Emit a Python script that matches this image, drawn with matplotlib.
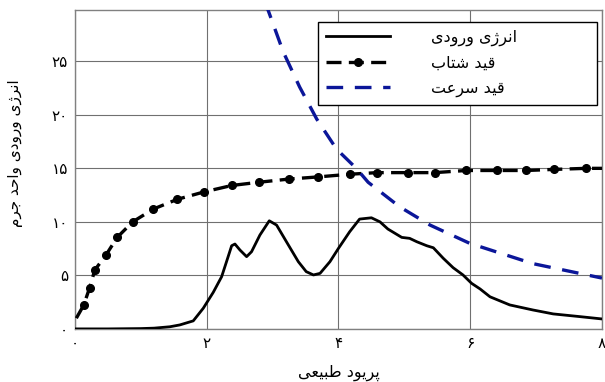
import matplotlib
matplotlib.use("Agg")
import matplotlib.pyplot as plt

# Input energy per unit mass (solid black)
period = [0.0, 0.5, 1.0, 1.2, 1.44, 1.59, 1.795, 1.947, 2.099, 2.226, 2.30, 2.378,
          2.428, 2.504, 2.605, 2.68, 2.807, 2.949, 3.06, 3.21, 3.39, 3.51, 3.62,
          3.72, 3.87, 4.0, 4.17, 4.32, 4.50, 4.63, 4.75, 4.96, 5.08, 5.19, 5.34,
          5.44, 5.59, 5.74, 5.89, 6.02, 6.15, 6.30, 6.60, 6.95, 7.26, 7.66, 8.0]
energy = [0.0, 0.0, 0.03, 0.07, 0.2, 0.37, 0.75, 1.93, 3.42, 4.88, 6.28, 7.77,
          7.93, 7.37, 6.75, 7.21, 8.77, 10.1, 9.7, 8.14, 6.28, 5.35, 5.04,
          5.19, 6.28, 7.53, 9.08, 10.26, 10.38, 10.0, 9.33, 8.55, 8.46, 8.14, 7.77,
          7.58, 6.6, 5.72, 5.04, 4.26, 3.73, 3.0, 2.24, 1.77, 1.4, 1.15, 0.93]

# Acceleration constraint (dashed black with dots)
acc_period = [0.02, 0.13, 0.22, 0.30, 0.47, 0.64, 0.875, 1.19, 1.55, 1.96, 2.38,
              2.79, 3.25, 3.69, 4.17, 4.59, 5.05, 5.46, 5.94, 6.40, 6.85, 7.27, 7.76, 8.0]
acc_energy = [1.0, 2.2, 3.8, 5.5, 6.9, 8.55, 10.0, 11.2, 12.1, 12.8, 13.4,
              13.7, 14.0, 14.2, 14.45, 14.6, 14.6, 14.6, 14.8, 14.8, 14.8, 14.9, 15.0, 15.0]

# Velocity constraint (dashed blue)
vel_period = [2.88, 2.93, 3.16, 3.41, 3.67, 3.97, 4.27, 4.45, 4.93, 5.39, 5.99, 6.95, 8.0]
vel_energy = [30.5, 29.8, 25.9, 22.6, 19.6, 16.8, 15.0, 13.7, 11.4, 9.7, 8.0, 6.1, 4.75]

xticks = [0, 2, 4, 6, 8]
yticks = [0, 5, 10, 15, 20, 25]


# matplotlib does no Arabic shaping: pick presentation forms by hand, then reverse
FORMS = {  # isolated, final, initial, medial
    'ا': '\uFE8D\uFE8E', 'د': '\uFEA9\uFEAA', 'ر': '\uFEAD\uFEAE',
    'ژ': '\uFB8A\uFB8B', 'و': '\uFEED\uFEEE',
    'ب': '\uFE8F\uFE90\uFE91\uFE92', 'پ': '\uFB56\uFB57\uFB58\uFB59',
    'ت': '\uFE95\uFE96\uFE97\uFE98', 'ج': '\uFE9D\uFE9E\uFE9F\uFEA0',
    'ح': '\uFEA1\uFEA2\uFEA3\uFEA4', 'س': '\uFEB1\uFEB2\uFEB3\uFEB4',
    'ش': '\uFEB5\uFEB6\uFEB7\uFEB8', 'ط': '\uFEC1\uFEC2\uFEC3\uFEC4',
    'ع': '\uFEC9\uFECA\uFECB\uFECC', 'ق': '\uFED5\uFED6\uFED7\uFED8',
    'م': '\uFEE1\uFEE2\uFEE3\uFEE4', 'ن': '\uFEE5\uFEE6\uFEE7\uFEE8',
    'ی': '\uFBFC\uFBFD\uFBFE\uFBFF',
}


def fa(text):
    out = []
    for i, ch in enumerate(text):
        if ch not in FORMS:
            out.append(ch)
            continue
        prev = text[i - 1] if i > 0 else ' '
        nxt = text[i + 1] if i + 1 < len(text) else ' '
        join_prev = prev in FORMS and len(FORMS[prev]) == 4
        join_next = nxt in FORMS and len(FORMS[ch]) == 4
        f = FORMS[ch]
        if join_prev and join_next:
            out.append(f[3])
        elif join_prev:
            out.append(f[1])
        elif join_next:
            out.append(f[2])
        else:
            out.append(f[0])
    return ''.join(out)[::-1]


def fa_num(n):
    return ''.join(chr(0x06F0 + int(d)) for d in str(n))


plt.rcParams['font.family'] = ['DejaVu Sans']

fig = plt.figure(figsize=(6.05, 3.82), dpi=100)
ax = fig.add_axes([0.124, 0.139, 0.871, 0.835])

ax.plot(period, energy, color='black', lw=2.0, label=fa('انرژی ورودی'),
        solid_joinstyle='round', zorder=3)
ax.plot(acc_period, acc_energy, color='black', lw=2.4, ls=(0, (4.5, 2.2)),
        marker='o', ms=5.5, markevery=range(1, len(acc_period) - 1),
        label=fa('قید شتاب'), zorder=3)
ax.plot(vel_period, vel_energy, color='#0b1699', lw=2.4, ls=(0, (5, 3.5)),
        label=fa('قید سرعت'), zorder=3)

ax.set_xlim(0, 8)
ax.set_ylim(0, 29.8)
ax.set_xticks(xticks)
ax.set_xticklabels([fa_num(v) for v in xticks])
ax.set_yticks(yticks)
ax.set_yticklabels([fa_num(v) for v in yticks])
ax.tick_params(length=0, labelsize=11, pad=5)
ax.grid(True, color='#707070', lw=0.8)
for s in ax.spines.values():
    s.set_color('#808080')
    s.set_linewidth(1.0)

ax.set_xlabel(fa('پریود طبیعی'), fontsize=11.5, labelpad=10)
fig.text(0.025, 0.6, fa('انرژی ورودی واحد جرم'), rotation=90,
         ha='center', va='center', fontsize=11)

leg = ax.legend(loc='upper left', bbox_to_anchor=(0.461, 0.708, 0.529, 0.254),
                mode='expand', borderaxespad=0, fancybox=False, framealpha=1,
                edgecolor='black', fontsize=11.5, handlelength=4.0,
                handletextpad=2.6, labelspacing=0.6, borderpad=0.5)
leg.get_frame().set_linewidth(1.0)

fig.savefig('out.png', dpi=100)
